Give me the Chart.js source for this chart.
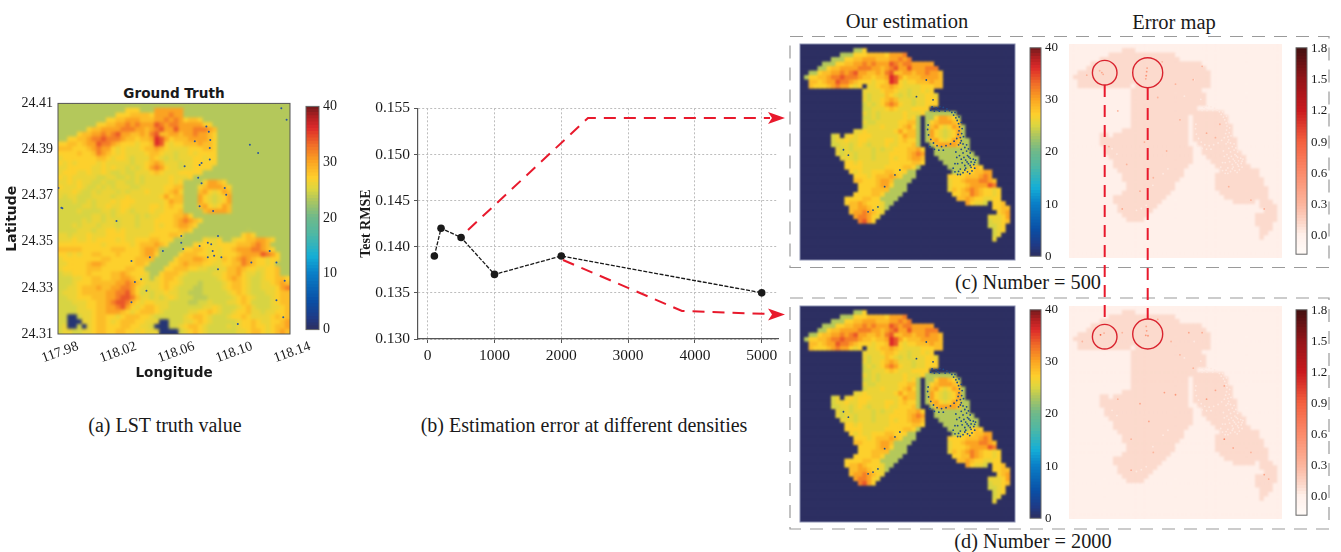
<!DOCTYPE html>
<html>
<head>
<meta charset="utf-8">
<title>LST estimation</title>
<script src="https://cdn.jsdelivr.net/npm/chart.js@4"></script>
<style>
  html, body { margin: 0; background: #fff; }
  #page { position: relative; width: 1341px; height: 552px; overflow: hidden; }
  canvas { position: absolute; }
  .cap { position: absolute; transform: translate(-50%, -50%); white-space: nowrap; color: #1a1a1a; font: 20px "Liberation Serif", serif; }
  svg { position: absolute; left: 0; top: 0; pointer-events: none; }
</style>
</head>
<body>
<div id="page">
  <div class="cap" style="left:174px;top:93px;font:bold 13.6px 'DejaVu Sans',sans-serif">Ground Truth</div>
  <div class="cap" style="left:165px;top:425px">(a) LST truth value</div>
  <div class="cap" style="left:584px;top:425px">(b) Estimation error at different densities</div>
  <div class="cap" style="left:907px;top:21px;font-size:20.5px">Our estimation</div>
  <div class="cap" style="left:1174px;top:22px;font-size:20.5px">Error map</div>
  <div class="cap" style="left:1028px;top:282px;font-size:20.3px">(c) Number = 500</div>
  <div class="cap" style="left:1033px;top:541px;font-size:20.3px">(d) Number = 2000</div>
  <svg width="1341" height="552" fill="none">
    <!-- panel frames -->
    <g stroke="#9a9a9a" stroke-width="1.2" stroke-dasharray="13 9">
      <rect x="790" y="36.5" width="539" height="231"/>
      <rect x="790" y="298" width="539" height="231"/>
    </g>
    <!-- arrows from the curve to the panels -->
    <g stroke="#e8192c" stroke-width="2" stroke-dasharray="12 8">
      <polyline points="468,230 588,118 770,118"/>
      <polyline points="563,260 682,311 770,314"/>
      <line x1="1104.7" y1="85" x2="1104.7" y2="324"/>
      <line x1="1147.7" y1="88" x2="1147.7" y2="319"/>
    </g>
    <g fill="#e8192c">
      <polygon points="768,112 785,118 768,124 772,118"/>
      <polygon points="768,308.5 785,314.5 768,320.5 772,314.5"/>
    </g>
    <g stroke="#d9232e" stroke-width="1.4">
      <circle cx="1104.7" cy="72.7" r="12.3"/>
      <circle cx="1147.7" cy="72.7" r="15"/>
      <circle cx="1104.7" cy="336.7" r="12.3"/>
      <circle cx="1147.7" cy="334" r="15"/>
    </g>
  </svg>
</div>
<script>
// line chart values
const densities = [100, 200, 500, 1000, 2000, 5000];
const testRmse = [0.139, 0.142, 0.141, 0.137, 0.139, 0.135];
const densityTicks = [0, 1000, 2000, 3000, 4000, 5000];
const rmseTicks = [0.130, 0.135, 0.140, 0.145, 0.150, 0.155];

// map tick labels
const lonTicks = [117.98, 118.02, 118.06, 118.10, 118.14];
const latTicks = [24.31, 24.33, 24.35, 24.37, 24.39, 24.41];
const tempTicks = [0, 10, 20, 30, 40];
const errorTicks = [0, 0.3, 0.6, 0.9, 1.2, 1.5, 1.8];

const tempOfLetter = { n: 1, w: 23.3, a: 23.6, b: 24.8, c: 25.9, d: 27, e: 28.3, f: 30, g: 32, h: 34, i: 36 };
const truthRows = [
  'wwwwwwwwwwwwwwwwwwwwwwwwwwwwwwwwwwwwwwwwwwwwwwww',
  'wwwwwwwwwwwwwwdddwwwffffffw',
  'wwwwwwwwwwwwdddeeeedfffgffwww',
  'wwwwwwwwwwddeefffeeeffgfgfdeedwww',
  'wwwwwwwwddeeffgfgfffhgfggfffffddw',
  'wwwwwwdeeffffgggffefghffhfffgggfe',
  'wwwwdeeffgfghffeefegheeffeffgffedw',
  'wwddeefgghgggfeedeefihfdeeeffffedw',
  'ddeedeffhggfedddcddeihdcddeeefeedw',
  'eeedddefgffdcdcccdeefedccccdddeedw',
  'ddddeddegfedcdccccdeedccbccdcddddw',
  'cdddddddeedcddcbcccedcbcbcccddcddw',
  'dcdcddddcdcccccbccdefecccbccdddddw',
  'ccdddddccdcdccbcbcdfgfdccbccddddw',
  'cdddccdccdcbbcbbcccdedcccdddddw',
  'dcdcccccbbccbbcbcbcccccdcccdw',
  'ccdcdccbbcbbccbbcbcccccdcdwwwwdffedwww',
  'dcccdcbbcbcbcccbbcccccddeewwwdefffedw',
  'cccdcbbcbcccbcbcccdcccdefdwwwefdcdfew',
  'cbccbbbccccbccdccccccdfdeewwwfdcbcdfw',
  'bbbcbbcbcccdcdddccccccdfeewwwfdcbcdfw',
  'bbbbbccbccdccddccccddcdeddwwwefdcdfew',
  'bbbbcbbbbccbcdcbcccdccdddewwwweffffew',
  'bbbbbbbccbcbccccbcbccdddeefdw',
  'bbbbbcbccbccbcccbcccddddefgfedw',
  'bbbcbcccbcccbcccbcccdcddeffedw',
  'bbbbcccbccddcdccccccdddddeedwwwwwwwwwwwaw',
  'ccbcccdcccddddcccccddddeedwwwwwwwwwwwwdedw',
  'cccdccdcddddcdccdddeedddwwwwwwdccdwwcddeeffedw',
  'dddddddddcdddddcdeeefedwwwwwddddcddddeeefgfew',
  'eeeeeddddddeeedddeffewwwwwddeedcdcddefffggfedw',
  'ddcdcddeedddeddddeffdwwwwdeeeddcdcdddeffffhgfdw',
  'cddddddddeedddddeeeewwwwdeeeffeddcedefgfeddcddw',
  'ccddddeffeddddddeedwwwwddefeeeddccddeegfeddcdwww',
  'cdddddeeedddddeeddwwwwddeeeddccbbcceefeddccddeww',
  'bccdddeddddeefedddcwwdeeedcbbbbbccdeefdccbcddeww',
  'bbbccddeeddeeffedccwcdeedcbbbbbbbcdefedcbbcddeed',
  'bbbcdddeeeeeffgfedcccdeddcbbbabbbbcdeedcbbccdefe',
  'bbccdeeefeeffggfdcbccdedcbbbaabbbbcdeedcbbcccdfg',
  'bcccdeeeeeffgghfdbcbccdccbbaaabbbbbcdedcbbbccdee',
  'bbccdddeeeffghhgeccbcbcdcbbbaaabbbbbcdedcbbbcdee',
  'bbbcccddeefghhgedcddcccbbbbaabbcbbbccdedbbbbcdee',
  'bbbbccddeeffghfdcdeedccbbbbbbbccdcbbbcdecbbbccde',
  'bbbbcccdeefffedcdeeedcbbbbbccddedcbbcddeccbccdde',
  'bbnnbccdeeddcdeeeddcbbbbbbcdeedcbbbcddedccccdede',
  'bbnnnccdeedcdeeeddcccnnbbbccdedcbbbbbcddedccddef',
  'bcnnbncdeedddeeddccbnnnbbcdeedcbbbbcbcddeddcdeef',
  'bccbbccdeeddeeddcdcccnnnnbcdedcbbbbbbccdeedcdefe'
];
// small no-data specks on the ground truth, [column, row]
const truthSpecks = [[30.7,4.8],[31.2,5.9],[31.5,7.6],[31.4,9.3],[31.4,11.7],[29.7,12.4],[29.3,12.8],[28.3,7.9],[26.2,13.1],[29,15.5],[29.7,16.6],[0.7,21.7],[0.9,21.8],[0.1,17.6],[25.5,27.6],[25.5,29],[25.9,30.3],[31,29],[31.7,29.3],[33.1,27.6],[32,30.7],[32.3,31.7],[33.8,32],[31,32],[29.3,29.7],[21.7,30.7],[19,32],[15.2,41.4],[17.2,36.6],[15.9,37.2],[18.3,39],[45.2,41],[46.9,36.9],[45.2,33.1],[43.8,30.7],[40,33.1],[32.1,22.4],[29.3,21.4],[34.8,19],[34.5,17.6],[47.3,3.4],[39.7,8.6],[41.4,10.3],[46.2,1],[33.1,34.5],[37.2,45.9],[46.6,44.5],[15.2,32.8],[12.1,24.5]];

// land kept by the estimation maps: [first, last] columns for each row
const landSpans = [
  [], [[12,14]], [[9,23]], [[7,24]], [[5,29]], [[4,30]], [[2,31]], [[1,31]], [[2,31]],
  [[2,13],[15,31]], [[14,29]], [[14,30]], [[14,30]], [[14,30]], [[14,28]], [[14,34]],
  [[14,26],[28,35]], [[14,26],[28,35]], [[14,26],[28,36]], [[12,26],[28,36]], [[7,8],[10,26],[28,36]],
  [[7,26],[28,37]], [[7,26],[29,37]], [[8,27],[30,37]], [[8,27],[30,38]], [[9,27],[31,39]],
  [[10,27],[32,39]], [[10,26],[33,40]], [[11,25],[34,42]], [[12,25],[33,42]], [[12,24],[33,43]],
  [[13,23],[33,43]], [[13,23],[33,44]], [[12,22],[34,44]], [[10,21],[35,44]], [[10,20],[37,41],[43,45]],
  [[11,19],[43,46]], [[11,18],[44,46]], [[12,17],[42,46]], [[13,14],[15,16],[42,46]], [[42,45]],
  [[43,45]], [[43,44]], [[43,43]], [], [], [], []
];
// navy specks on the estimation maps, mostly around the ring, [column, row]
const estimationSpecks = [[29.5,14],[30.4,14.2],[31.2,13.9],[32,14.1],[32.8,14.4],[33.4,14.8],[30,14.9],[31.1,14.9],[33.9,15.2],[34.3,15.8],[34.8,16.4],[35.1,17],[35.4,17.7],[35.6,18.4],[35.5,19.3],[35.3,20.1],[35.8,20.8],[35,21],[34.4,21.6],[33.6,22.2],[32.6,22.6],[31.6,22.8],[30.6,22.6],[29.8,22],[29.2,21.2],[28.7,20.2],[28.5,19],[28.6,18],[29,22.8],[30,23.4],[31,23.6],[32,23.6],[36,21.5],[36.4,22.2],[35.4,22.4],[36.8,23],[36,23.4],[37.2,23.8],[36.4,24.2],[37.4,24.8],[36.6,25.2],[38,25.4],[37,25.8],[38.2,26.2],[37.6,26.6],[38.8,26.8],[36.2,26.4],[38.2,27.4],[37,27.6],[35.8,27.8],[38.4,28.2],[37.4,28.4],[36.4,28.6],[34.6,28.4],[35.2,29],[39.2,25.8],[34.8,24],[35,25.2],[9.7,23.5],[10.8,24.7],[18.9,31.7],[21.2,29.1],[22.3,28],[16.3,36.9],[17.4,36.2],[15.2,37.3],[28.2,8],[26,11.7],[29.7,12.4],[30.8,14.6],[32.4,14.9],[29.2,14.7],[34.6,15.2],[35.5,16.2],[36,17.4],[36.2,18.8],[36.1,19.9],[36.5,20.6],[35.8,22],[37.2,22.4],[37.6,23.3],[38,24.2],[35.6,24.8],[36,25.6],[37.7,25.1],[38.7,25.6],[39,26.3],[37.3,26.2],[36.8,27],[38,27],[39,27.6],[35.2,26.6],[35.4,28.3],[36.8,28],[37.9,28.8],[35.8,29],[34.2,27.6],[34.6,26.6]];

// error levels
const errorSea = 0;
const errorLand = 0.1;
// larger errors, [column, row, error]
const errorSpots500 = [[7.4,6.4,0.4],[7.7,6.8,0.35],[6.9,6,0.3],[17.5,6.2,0.5],[17.4,7.1,0.55],[17.6,5.4,0.45],[17.3,7.8,0.4],[11,15,0.3],[20,12,0.3],[24,9,0.3],[28,8,0.3],[17,22,0.35],[22,24,0.3],[13,27,0.3],[16,33,0.35],[19,30,0.3],[31,20,0.35],[33,21,0.3],[34,18,0.3],[36,32,0.3],[41,35,0.3],[44,37,0.35],[12,37,0.4],[18,28,0.3],[25,17,0.3],[9,23,0.3],[30,5,0.3],[4,7,0.3],[21,4,0.3]];
const errorSpots2000 = [[7.1,6.5,0.9],[7.9,6.1,0.35],[17.5,5.6,0.45],[17.3,6.6,0.5],[17.8,6.7,0.5],[17.4,4.6,0.4],[27,6,0.4],[23,8,0.3],[30,6,0.35],[24,20,0.5],[16,22,0.4],[21.5,19.5,0.45],[25,11,0.3],[18,26,0.4],[28,14,0.3],[33,19,0.4],[35,18,0.4],[31,21,0.45],[35,30,0.6],[37,32,0.35],[41,33,0.3],[44,38,0.4],[45,39,0.35],[14,37,0.35],[19,33,0.3],[11,21,0.3],[14,30,0.3],[3,8,0.3],[12,6,0.3],[20,3,0.35]];

const nCells = truthRows.length;
const tempStops = [[0,'#2d2f62'],[2,'#1f3a86'],[5,'#0a4fa6'],[10,'#0a80c8'],[13,'#14aed6'],[17,'#4fb8a4'],[20,'#6fb98a'],[23.3,'#b4c85b'],[25,'#dcd640'],[27,'#fdd02c'],[30,'#fba322'],[33,'#f06c28'],[36,'#dc2a2a'],[38,'#b02022'],[40,'#6e1a1c']];
const errorStops = [[-0.18,'#fffaf7'],[0,'#fff0ea'],[0.1,'#fcdacd'],[0.3,'#fcb49c'],[0.6,'#fb8a6a'],[0.9,'#f4603f'],[1.2,'#c9191e'],[1.5,'#931519'],[1.8,'#431010']];

function hexRgb(h) { return [1, 3, 5].map(i => parseInt(h.substr(i, 2), 16)); }
function colourAt(stops, v) {
  if (v <= stops[0][0]) return stops[0][1];
  for (let i = 1; i < stops.length; i++) {
    if (v <= stops[i][0]) {
      const t = (v - stops[i-1][0]) / (stops[i][0] - stops[i-1][0]);
      const a = hexRgb(stops[i-1][1]), b = hexRgb(stops[i][1]);
      return 'rgb(' + a.map((c, k) => Math.round(c + (b[k] - c) * t)).join(',') + ')';
    }
  }
  return stops[stops.length-1][1];
}

function tempAt(col, row) { return tempOfLetter[truthRows[row][col] || 'w']; }
function isLand(col, row) { return landSpans[row].some(s => col >= s[0] && col <= s[1]); }

// softens the blocky cells the way the resampled figure looks
const softenCells = {
  id: 'softenCells',
  afterDatasetDraw(chart, args, opts) {
    if (!opts.blur || args.index !== chart.data.datasets.length - 1) return;
    const a = chart.chartArea, ctx = chart.ctx;
    ctx.save();
    ctx.beginPath(); ctx.rect(a.left, a.top, a.width, a.height); ctx.clip();
    ctx.filter = 'blur(' + opts.blur + 'px)';
    ctx.drawImage(ctx.canvas, 0, 0);
    ctx.restore();
  }
};
const plotFrame = {
  id: 'plotFrame',
  afterDraw(chart, args, opts) {
    if (!opts.color) return;
    const a = chart.chartArea, ctx = chart.ctx;
    ctx.save();
    ctx.strokeStyle = opts.color; ctx.lineWidth = 1;
    ctx.strokeRect(a.left, a.top, a.width, a.height);
    ctx.restore();
  }
};
Chart.register(softenCells, plotFrame);
Chart.defaults.animation = false;
Chart.defaults.responsive = false;
Chart.defaults.color = '#1a1a1a';
Chart.defaults.plugins.legend.display = false;
Chart.defaults.plugins.tooltip.enabled = false;

const noGrid = { display: false, drawTicks: false, tickLength: 0 };
const page = document.getElementById('page');
// box = canvas in page pixels, plot = wanted chart area in page pixels
function place(box, plot, cfg) {
  const c = document.createElement('canvas');
  c.width = box.r - box.l; c.height = box.b - box.t;
  c.style.left = box.l + 'px'; c.style.top = box.t + 'px';
  page.appendChild(c);
  cfg.options.layout = { autoPadding: false, padding: {
    left: cfg.hasYLeft ? 0 : plot.l - box.l,
    right: cfg.hasYRight ? 0 : box.r - plot.r,
    top: plot.t - box.t,
    bottom: cfg.hasXBottom ? 0 : box.b - plot.b } };
  return new Chart(c.getContext('2d'), cfg);
}

function cellDataset(cells, stops, cellPx) {
  return {
    data: cells.map(c => ({ x: c.x, y: c.y })),
    pointStyle: 'rect',
    pointRadius: (cellPx / 2 + 0.4) / Math.SQRT1_2,
    pointBorderWidth: 0,
    pointBackgroundColor: cells.map(c => colourAt(stops, c.v))
  };
}
function speckDataset(points, colours, radius) {
  return { data: points, pointRadius: radius, pointBorderWidth: 0, pointBackgroundColor: colours };
}

// (a) ground truth
(function () {
  const box = { l: 4, t: 90, r: 345, b: 384 }, plot = { l: 58, t: 102, r: 290, b: 334 };
  const lon = c => 117.98 + (c + 0.5) * 0.16 / nCells;
  const lat = r => 24.41 - (r + 0.5) * 0.10 / nCells;
  const cells = [];
  for (let r = 0; r < nCells; r++) for (let c = 0; c < nCells; c++) cells.push({ x: lon(c), y: lat(r), v: tempAt(c, r) });
  place(box, plot, {
    type: 'scatter', hasYLeft: true, hasXBottom: true,
    data: { datasets: [
      speckDataset(truthSpecks.map(p => ({ x: lon(p[0] - 0.5), y: lat(p[1] - 0.5) })), '#2a55a0', 1),
      cellDataset(cells, tempStops, 232 / nCells)
    ] },
    options: {
      plugins: { plotFrame: { color: '#555' }, softenCells: { blur: 1.6 } },
      scales: {
        x: { type: 'linear', min: 117.98, max: 118.14, grid: noGrid, border: { display: false },
          afterBuildTicks(s) { s.ticks = lonTicks.map(v => ({ value: v })); },
          afterFit(s) { s.height = box.b - plot.b; },
          ticks: { autoSkip: false, minRotation: 20, maxRotation: 20, labelOffset: 20, padding: 4, font: { family: 'Liberation Serif', size: 14 }, callback: v => v.toFixed(2) },
          title: { display: true, text: 'Longitude', font: { family: 'DejaVu Sans', weight: 'bold', size: 13.6 }, padding: { top: 0, bottom: 2 } } },
        y: { min: 24.31, max: 24.41, grid: noGrid, border: { display: false },
          afterBuildTicks(s) { s.ticks = latTicks.map(v => ({ value: v })); },
          afterFit(s) { s.width = plot.l - box.l; },
          ticks: { autoSkip: false, padding: 5, font: { family: 'Liberation Serif', size: 14 }, callback: v => v.toFixed(2) },
          title: { display: true, text: 'Latitude', font: { family: 'DejaVu Sans', weight: 'bold', size: 14 }, padding: { top: 0, bottom: 0 } } }
      }
    }
  });
})();

// (b) test RMSE against density
(function () {
  const box = { l: 358, t: 95, r: 790, b: 365 }, plot = { l: 418, t: 105, r: 778, b: 339 };
  const font = { family: 'Liberation Serif', size: 15.5 };
  const grid = { color: '#bdbdbd', tickColor: '#555', tickLength: 4, tickBorderDash: [] };
  place(box, plot, {
    type: 'scatter', hasYLeft: true, hasXBottom: true,
    data: { datasets: [{
      data: densities.map((d, i) => ({ x: d, y: testRmse[i] })),
      showLine: true, borderColor: '#1a1a1a', borderWidth: 1.3, borderDash: [4, 1.5],
      pointRadius: 3.8, pointBackgroundColor: '#1a1a1a', pointBorderWidth: 0
    }] },
    options: {
      scales: {
        x: { type: 'linear', min: -145, max: 5244, grid: grid, border: { color: '#555', width: 1.2, dash: [2, 2] },
          afterBuildTicks(s) { s.ticks = densityTicks.map(v => ({ value: v })); },
          afterFit(s) { s.height = box.b - plot.b; },
          ticks: { autoSkip: false, maxRotation: 0, padding: 4, font: font, callback: v => String(v) } },
        y: { min: 0.130, max: 0.155, grid: grid, border: { color: '#555', width: 1.2, dash: [2, 2] },
          afterBuildTicks(s) { s.ticks = rmseTicks.map(v => ({ value: v })); },
          afterFit(s) { s.width = plot.l - box.l; },
          ticks: { autoSkip: false, padding: 4, font: font, callback: v => v.toFixed(3) },
          title: { display: true, text: 'Test RMSE', font: { family: 'Liberation Serif', weight: 'bold', size: 14 }, padding: { top: 0, bottom: 0 } } }
      }
    }
  });
})();

// estimation panels use the truth values where the land mask keeps them
function estimationPanel(plot) {
  const cells = [];
  for (let r = 0; r < nCells; r++) for (let c = 0; c < nCells; c++)
    cells.push({ x: c + 0.5, y: r + 0.5, v: isLand(c, r) ? tempAt(c, r) : 0 });
  const box = { l: plot.l - 2, t: plot.t - 2, r: plot.r + 2, b: plot.b + 2 };
  place(box, plot, {
    type: 'scatter',
    data: { datasets: [
      speckDataset(estimationSpecks.map(p => ({ x: p[0], y: p[1] })), '#1f4a8a', 0.9),
      cellDataset(cells, tempStops, (plot.r - plot.l) / nCells)
    ] },
    options: {
      plugins: { plotFrame: { color: '#8a8fb0' }, softenCells: { blur: 1.3 } },
      scales: { x: { type: 'linear', display: false, min: 0, max: nCells }, y: { display: false, min: 0, max: nCells, reverse: true } }
    }
  });
}

function errorPanel(plot, spots) {
  const cells = [];
  for (let r = 0; r < nCells; r++) for (let c = 0; c < nCells; c++)
    cells.push({ x: c + 0.5, y: r + 0.5, v: isLand(c, r) ? errorLand : errorSea });
  const box = { l: plot.l - 2, t: plot.t - 2, r: plot.r + 2, b: plot.b + 2 };
  place(box, plot, {
    type: 'scatter',
    data: { datasets: [
      speckDataset(spots.map(p => ({ x: p[0], y: p[1] })), spots.map(p => colourAt(errorStops, p[2])), 0.9),
      speckDataset(estimationSpecks.map(p => ({ x: p[0], y: p[1] })), colourAt(errorStops, 0.03), 0.9),
      cellDataset(cells, errorStops, (plot.r - plot.l) / nCells)
    ] },
    options: {
      plugins: { softenCells: { blur: 1.2 } },
      scales: { x: { type: 'linear', display: false, min: 0, max: nCells }, y: { display: false, min: 0, max: nCells, reverse: true } }
    }
  });
}

// vertical colour bar as a pile of thin floating bars
function colourBar(plot, stops, min, max, ticks, digits, fontSize) {
  const levels = 70, step = (max - min) / levels, sets = [];
  for (let i = 0; i < levels; i++) {
    const lo = min + i * step;
    sets.push({ data: [[lo, lo + step * 1.15]], backgroundColor: colourAt(stops, lo + step / 2), grouped: false, barPercentage: 1, categoryPercentage: 1, borderWidth: 0 });
  }
  const box = { l: plot.l - 2, t: plot.t - 8, r: plot.r + 30, b: plot.b + 8 };
  place(box, plot, {
    type: 'bar', hasYRight: true,
    data: { labels: ['bar'], datasets: sets },
    options: {
      plugins: { plotFrame: { color: '#666' } },
      scales: {
        x: { display: false },
        y: { position: 'right', min: min, max: max, grid: noGrid, border: { display: false },
          afterBuildTicks(s) { s.ticks = ticks.map(v => ({ value: v })); },
          afterFit(s) { s.width = box.r - plot.r; },
          ticks: { autoSkip: false, padding: 4, font: { family: 'Liberation Serif', size: fontSize }, callback: v => v.toFixed(digits) } }
      }
    }
  });
}

colourBar({ l: 306, t: 102, r: 319, b: 334 }, tempStops, 0, 40, tempTicks, 0, 14);

estimationPanel({ l: 800, t: 44, r: 1015, b: 260 });
colourBar({ l: 1030, t: 44, r: 1041, b: 260 }, tempStops, 0, 40, tempTicks, 0, 13);
errorPanel({ l: 1069, t: 44, r: 1282, b: 258 }, errorSpots500);
colourBar({ l: 1296, t: 44, r: 1307, b: 258 }, errorStops, -0.18, 1.81, errorTicks, 1, 13);

estimationPanel({ l: 800, t: 306, r: 1015, b: 522 });
colourBar({ l: 1030, t: 306, r: 1041, b: 522 }, tempStops, 0, 40, tempTicks, 0, 13);
errorPanel({ l: 1069, t: 306, r: 1282, b: 519 }, errorSpots2000);
colourBar({ l: 1296, t: 306, r: 1307, b: 519 }, errorStops, -0.18, 1.81, errorTicks, 1, 13);

// keep the overlay above the canvases
page.appendChild(document.querySelector('svg'));
</script>
</body>
</html>
